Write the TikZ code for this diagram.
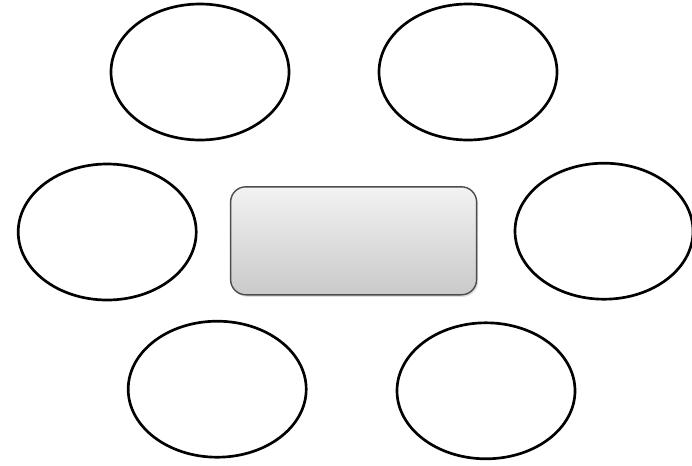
\documentclass[tikz,border=0pt]{standalone}
\usepackage{tikz}
\usetikzlibrary{positioning,shapes.geometric,shadows}

\begin{document}
\begin{tikzpicture}[
  blob/.style={draw, ellipse, line width=1.9pt, minimum width=4.45cm, minimum height=3.4cm},
  hubbox/.style={draw=black!70, line width=1pt, rounded corners=0.38cm, minimum width=6.15cm, minimum height=2.7cm,
    top color=gray!10, bottom color=gray!42, drop shadow={opacity=0.25, shadow xshift=0.04cm, shadow yshift=-0.05cm}}
]
\useasboundingbox (0,0) rectangle (17.3,-11.625);
\node (hub) [hubbox] at (8.84,-6.02) {};
\node (nw) [blob] at (5.0,-1.8) {};
\node (ne) [blob] at (11.7,-1.8) {};
\node (w) [blob] at (2.68,-5.8) {};
\node (e) [blob] at (15.1,-5.78) {};
\node (sw) [blob] at (5.43,-9.73) {};
\node (se) [blob] at (12.15,-9.77) {};
\end{tikzpicture}
\end{document}
